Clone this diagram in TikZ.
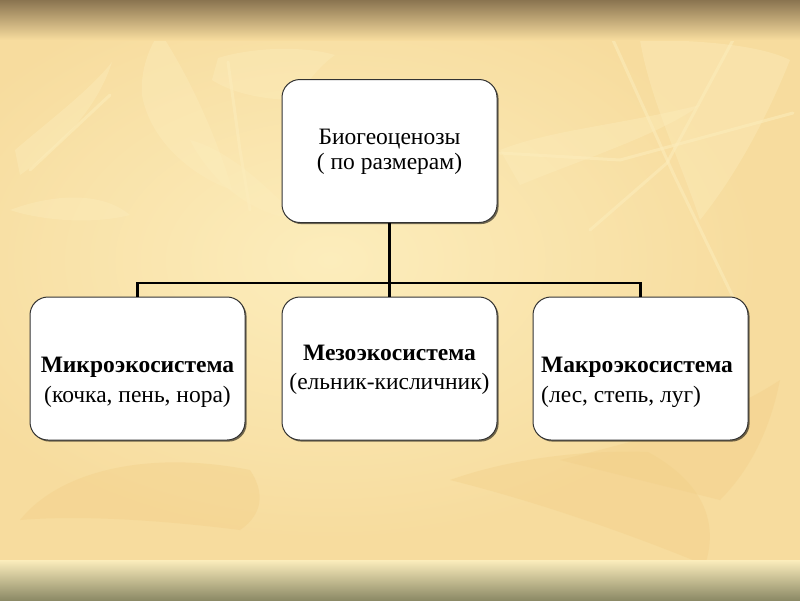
\documentclass[tikz,border=0pt]{standalone}
\usepackage{fontspec}
\setmainfont{Liberation Serif}
\usetikzlibrary{shadows}
\definecolor{bgmain}{HTML}{F7DC9E}
\definecolor{bglight}{HTML}{FCEDBC}
\definecolor{bgdark}{HTML}{F2CF88}
\definecolor{topdark}{HTML}{8A7450}
\definecolor{botdark}{HTML}{8C8A66}
\definecolor{boxline}{HTML}{333333}
\tikzset{
  box/.style={draw=boxline, line width=1pt, fill=white, rounded corners=18pt,
    minimum width=215pt, minimum height=143pt, inner sep=0pt,
    drop shadow={shadow xshift=1.6pt, shadow yshift=-1.6pt, fill=black, opacity=0.55}},
  txt/.style={font=\fontsize{23.5}{25}\selectfont, align=center, inner sep=0pt},
  link/.style={line width=2.4pt, black},
  leaf/.style={fill=bglight, opacity=0.4, draw=none},
  leafdark/.style={fill=bgdark, opacity=0.4, draw=none},
  stem/.style={draw=bglight, opacity=0.55, line width=3pt, line cap=round}
}
\begin{document}
\begin{tikzpicture}[x=1pt,y=-1pt]
\useasboundingbox (0,0) rectangle (800,600);
% background
\fill[bgmain] (0,0) rectangle (800,600);
\shade[inner color=bglight, outer color=bgmain] (330,260) ellipse (430 and 280);
% leaves
\fill[leaf] (160,32) .. controls (185,70) and (215,130) .. (232,190) .. controls (190,175) and (150,140) .. (142,95) .. controls (140,70) and (150,45) .. (160,32) -- cycle;
\fill[leaf] (218,58) .. controls (250,48) and (300,45) .. (335,55) .. controls (320,65) and (305,85) .. (295,100) .. controls (270,100) and (235,95) .. (212,80) -- cycle;
\fill[leaf] (10,210) .. controls (50,195) and (100,190) .. (130,215) .. controls (90,225) and (40,220) .. (10,210) -- cycle;
\fill[leaf] (15,150) .. controls (50,120) and (90,90) .. (112,62) .. controls (100,100) and (70,140) .. (20,175) -- cycle;
\fill[leaf] (190,140) .. controls (230,150) and (270,190) .. (300,220) .. controls (250,215) and (210,180) .. (190,140) -- cycle;
\fill[leaf] (500,150) .. controls (550,130) and (620,125) .. (700,105) .. controls (660,135) and (580,160) .. (520,185) -- cycle;
\fill[leaf] (640,40) .. controls (700,40) and (760,45) .. (790,60) .. controls (770,110) and (740,170) .. (700,220) .. controls (680,160) and (650,100) .. (640,40) -- cycle;
\fill[leafdark] (20,520) .. controls (60,470) and (150,450) .. (250,470) .. controls (270,500) and (255,520) .. (240,530) .. controls (160,520) and (80,515) .. (20,520) -- cycle;
\fill[leafdark] (450,480) .. controls (520,455) and (600,450) .. (648,452) .. controls (700,480) and (720,520) .. (705,565) .. controls (620,530) and (530,500) .. (450,480) -- cycle;
\fill[leafdark] (560,460) .. controls (640,440) and (720,420) .. (780,380) .. controls (770,430) and (750,470) .. (720,500) -- cycle;
\draw[stem] (613,40) -- (673,173) -- (733,297);
\draw[stem] (733,40) -- (667,163) -- (590,230);
\draw[stem] (500,153) -- (620,160) -- (793,113);
\draw[stem] (228,62) -- (240,150) -- (250,210);
\draw[stem] (30,170) -- (110,95);
% top and bottom bands
\shade[top color=topdark, bottom color=bgmain] (0,0) rectangle (800,40);
\shade[top color=bglight, bottom color=botdark] (0,560) rectangle (800,600);
% boxes
\node[box] (top) at (389.5,151) {};
\node[box] (left) at (137.5,368.5) {};
\node[box] (mid) at (389.5,368.5) {};
\node[box] (right) at (640.5,368.5) {};
% texts
\node[txt] (ttop) at (389.5,152) {Биогеоценозы\\( по размерам)};
\node[txt, font=\fontsize{23.5}{30}\selectfont] (tleft) at (137.5,382) {\textbf{Микроэкосистема}\\(кочка, пень, нора)};
\node[txt, font=\fontsize{23.5}{29}\selectfont] (tmid) at (389.5,370) {\textbf{Мезоэкосистема}\\(ельник-кисличник)};
\node[txt, font=\fontsize{23.5}{30}\selectfont, align=left, anchor=west] (tright) at (541,382) {\textbf{Макроэкосистема}\\(лес, степь, луг)};
% connectors
\coordinate (j) at (389.5,283);
\draw[link] (top.south) -- (j);
\draw[link] (j) -- (mid.north);
\draw[link] (left.north) |- (j) -| (right.north);
\end{tikzpicture}
\end{document}
